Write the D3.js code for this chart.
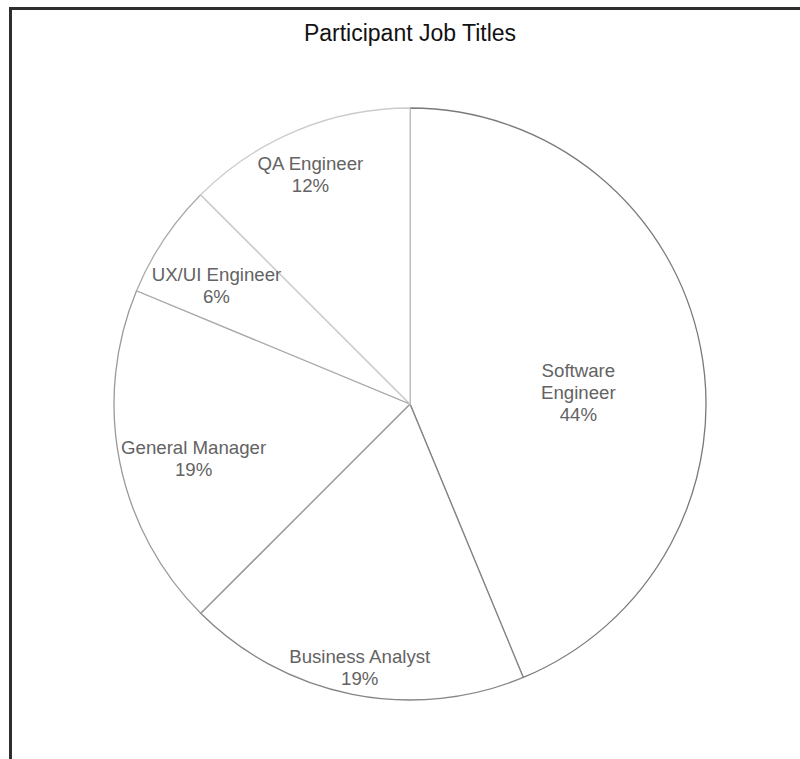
<!DOCTYPE html>
<html>
<head>
<meta charset="utf-8">
<script src="https://cdn.jsdelivr.net/npm/d3@7"></script>
<style>
	body { margin:0; background:#fff; }
	svg { display:block; }
	text { font-family: "Liberation Sans", Arial, sans-serif; }
</style>
</head>
<body>
<svg id="chart" width="800" height="759"></svg>
<script>
	// counts per job title (16 participants)
	var titles = ["Software Engineer","Business Analyst","General Manager","UX/UI Engineer","QA Engineer"];
	var counts = [7,3,3,1,2];
	var pctLabels = ["44%","19%","19%","6%","12%"];
	var strokes = ["#7a7a7a","#858585","#9a9a9a","#acacac","#cccccc"];

	var width = 800, height = 759;
	var cx = 410, cy = 404, radius = 296;
	var lineH = 22, fontSize = 18.67, maxLine = 150;

	var svg = d3.select("#chart");

	// chart area frame (runs off the right/bottom of the picture)
	svg.append("rect")
		.attr("x",10.5).attr("y",8.5)
		.attr("width",width+20).attr("height",height+20)
		.attr("fill","#fff")
		.attr("stroke","#2e2e2e")
		.attr("stroke-width",3);

	svg.append("text")
		.attr("x",cx).attr("y",41)
		.attr("text-anchor","middle")
		.attr("font-size",23)
		.attr("fill","#111")
		.text("Participant Job Titles");

	var data = titles.map(function(t,i){return {title:t,count:counts[i],pct:pctLabels[i],stroke:strokes[i]};});
	var total = d3.sum(counts);

	var pie = d3.pie().sort(null).value(function(d){return d.count;});
	var arc = d3.arc().innerRadius(0).outerRadius(radius);
	var arcs = pie(data);

	var g = svg.append("g").attr("transform","translate("+cx+","+cy+")");

	g.selectAll("path")
		.data(arcs)
		.enter().append("path")
		.attr("d",arc)
		.attr("fill","#fff")
		.attr("stroke",function(d){return d.data.stroke;})
		.attr("stroke-width",1.3);

	var labels = g.selectAll("text.lbl")
		.data(arcs)
		.enter().append("text")
		.attr("class","lbl")
		.attr("text-anchor","middle")
		.attr("font-size",fontSize)
		.attr("fill","#636363");

	// split a title into lines no wider than maxLine
	function wrapLines(sel,str) {
		var words = str.split(" "), lines = [], cur = "";
		var probe = sel.append("tspan");
		words.forEach(function(w) {
			var test = cur ? cur+" "+w : w;
			probe.text(test);
			if(probe.node().getComputedTextLength()>maxLine && cur) { lines.push(cur); cur = w; }
			else cur = test;
		});
		lines.push(cur);
		probe.remove();
		return lines;
	}

	labels.each(function(d) {
		var t = d3.select(this);
		var lines = wrapLines(t,d.data.title).concat([d.data.pct]);
		var halfW = [];
		lines.forEach(function(l,i) {
			var ts = t.append("tspan").attr("x",0).attr("dy",0).text(l);
			halfW.push(ts.node().getComputedTextLength()/2);
		});
		var mid = (d.startAngle+d.endAngle)/2;
		var ux = Math.sin(mid), uy = -Math.cos(mid);
		var r;
		if(d.data.count/total>0.3) {
			r = radius*0.58;
		} else {
			// push the label out along the mid ray until a line corner meets the rim
			var L = radius-2;
			r = Infinity;
			halfW.forEach(function(hw,i) {
				[-hw,hw].forEach(function(ox) {
					[i*lineH-lineH/2,i*lineH+lineH/2].forEach(function(oy) {
						var b = ux*ox+uy*oy, c = ox*ox+oy*oy-L*L;
						var rr = -b+Math.sqrt(b*b-c);
						if(rr<r) r = rr;
					});
				});
			});
		}
		var ax = r*ux, ay = r*uy;
		t.selectAll("tspan")
			.attr("x",ax)
			.attr("y",function(l,i){return ay+6.5+i*lineH;});
	});
</script>
</body>
</html>
